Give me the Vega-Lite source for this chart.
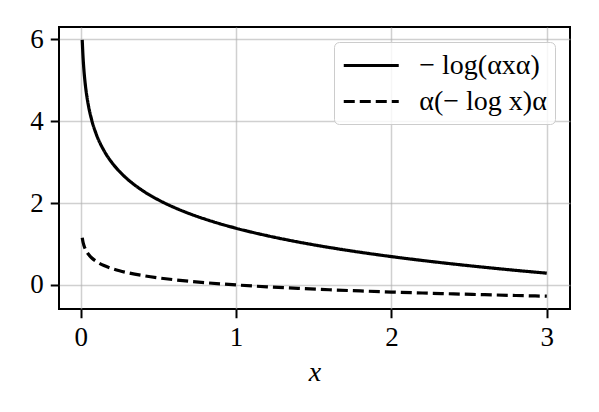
{
  "$schema": "https://vega.github.io/schema/vega-lite/v6.json",
  "width": 511,
  "height": 282,
  "autosize": {"type": "none"},
  "padding": {"left": 59, "top": 27, "right": 29, "bottom": 103},
  "background": "white",
  "data": {
    "values": [
      {"x": 0.01, "s": "− log(αxα)", "y": 5.9915}, {"x": 0.015, "s": "− log(αxα)", "y": 5.586}, {"x": 0.02, "s": "− log(αxα)", "y": 5.2983},
      {"x": 0.03, "s": "− log(αxα)", "y": 4.8929}, {"x": 0.04, "s": "− log(αxα)", "y": 4.6052}, {"x": 0.05, "s": "− log(αxα)", "y": 4.382},
      {"x": 0.07, "s": "− log(αxα)", "y": 4.0456}, {"x": 0.1, "s": "− log(αxα)", "y": 3.6889}, {"x": 0.15, "s": "− log(αxα)", "y": 3.2834},
      {"x": 0.2, "s": "− log(αxα)", "y": 2.9957}, {"x": 0.25, "s": "− log(αxα)", "y": 2.7726}, {"x": 0.3, "s": "− log(αxα)", "y": 2.5903},
      {"x": 0.4, "s": "− log(αxα)", "y": 2.3026}, {"x": 0.5, "s": "− log(αxα)", "y": 2.0794}, {"x": 0.6, "s": "− log(αxα)", "y": 1.8971},
      {"x": 0.7, "s": "− log(αxα)", "y": 1.743}, {"x": 0.8, "s": "− log(αxα)", "y": 1.6094}, {"x": 0.9, "s": "− log(αxα)", "y": 1.4917},
      {"x": 1.0, "s": "− log(αxα)", "y": 1.3863}, {"x": 1.2, "s": "− log(αxα)", "y": 1.204}, {"x": 1.4, "s": "− log(αxα)", "y": 1.0498},
      {"x": 1.6, "s": "− log(αxα)", "y": 0.9163}, {"x": 1.8, "s": "− log(αxα)", "y": 0.7985}, {"x": 2.0, "s": "− log(αxα)", "y": 0.6931},
      {"x": 2.2, "s": "− log(αxα)", "y": 0.5978}, {"x": 2.4, "s": "− log(αxα)", "y": 0.5108}, {"x": 2.6, "s": "− log(αxα)", "y": 0.4308},
      {"x": 2.8, "s": "− log(αxα)", "y": 0.3567}, {"x": 3.0, "s": "− log(αxα)", "y": 0.2877},
      {"x": 0.01, "s": "α(− log x)α", "y": 1.1513}, {"x": 0.015, "s": "α(− log x)α", "y": 1.0499}, {"x": 0.02, "s": "α(− log x)α", "y": 0.978},
      {"x": 0.03, "s": "α(− log x)α", "y": 0.8766}, {"x": 0.04, "s": "α(− log x)α", "y": 0.8047}, {"x": 0.05, "s": "α(− log x)α", "y": 0.7489},
      {"x": 0.07, "s": "α(− log x)α", "y": 0.6648}, {"x": 0.1, "s": "α(− log x)α", "y": 0.5756}, {"x": 0.15, "s": "α(− log x)α", "y": 0.4743},
      {"x": 0.2, "s": "α(− log x)α", "y": 0.4024}, {"x": 0.25, "s": "α(− log x)α", "y": 0.3466}, {"x": 0.3, "s": "α(− log x)α", "y": 0.301},
      {"x": 0.4, "s": "α(− log x)α", "y": 0.2291}, {"x": 0.5, "s": "α(− log x)α", "y": 0.1733}, {"x": 0.6, "s": "α(− log x)α", "y": 0.1277},
      {"x": 0.7, "s": "α(− log x)α", "y": 0.0892}, {"x": 0.8, "s": "α(− log x)α", "y": 0.0558}, {"x": 0.9, "s": "α(− log x)α", "y": 0.0263},
      {"x": 1.0, "s": "α(− log x)α", "y": 0.0}, {"x": 1.2, "s": "α(− log x)α", "y": -0.0456}, {"x": 1.4, "s": "α(− log x)α", "y": -0.0841},
      {"x": 1.6, "s": "α(− log x)α", "y": -0.1175}, {"x": 1.8, "s": "α(− log x)α", "y": -0.1469}, {"x": 2.0, "s": "α(− log x)α", "y": -0.1733},
      {"x": 2.2, "s": "α(− log x)α", "y": -0.1971}, {"x": 2.4, "s": "α(− log x)α", "y": -0.2189}, {"x": 2.6, "s": "α(− log x)α", "y": -0.2389},
      {"x": 2.8, "s": "α(− log x)α", "y": -0.2574}, {"x": 3.0, "s": "α(− log x)α", "y": -0.2747}
    ]
  },
  "mark": {"type": "line", "color": "black", "strokeWidth": 3.2, "interpolate": "monotone"},
  "encoding": {
    "x": {
      "field": "x", "type": "quantitative", "title": "x",
      "scale": {"domain": [-0.1395, 3.1495], "nice": false, "zero": false},
      "axis": {"values": [0, 1, 2, 3], "format": "d", "titleFontStyle": "italic"}
    },
    "y": {
      "field": "y", "type": "quantitative", "title": null,
      "scale": {"domain": [-0.588, 6.305], "nice": false, "zero": false},
      "axis": {"values": [0, 2, 4, 6], "format": "d"}
    },
    "strokeDash": {
      "field": "s", "type": "nominal", "title": null,
      "scale": {"domain": ["− log(αxα)", "α(− log x)α"], "range": [[1, 0], [11, 5]]},
      "legend": {
        "orient": "none", "legendX": 275, "legendY": 15,
        "symbolType": "M-2,0H2", "symbolSize": 756, "symbolOffset": 13.75,
        "symbolStrokeWidth": 3.2, "symbolStrokeColor": "black", "symbolFillColor": "transparent",
        "labelFont": "Liberation Serif", "labelFontSize": 28, "labelColor": "black", "labelOffset": 32.5,
        "fillColor": "rgba(255,255,255,0.8)", "strokeColor": "#cccccc", "cornerRadius": 5,
        "padding": 8, "rowPadding": 6
      }
    },
    "order": {"field": "x", "type": "quantitative"}
  },
  "config": {
    "view": {"stroke": "black", "strokeWidth": 2},
    "axis": {
      "domain": false,
      "labelFont": "Liberation Serif", "labelFontSize": 27, "labelColor": "black",
      "titleFont": "Liberation Serif", "titleFontSize": 28, "titleColor": "black", "titleFontWeight": "normal",
      "tickColor": "black", "tickWidth": 2, "tickSize": 8.75, "labelPadding": 7,
      "grid": true, "gridColor": "#b0b0b0", "gridOpacity": 0.6, "gridWidth": 1.5,
      "titlePadding": 8
    }
  }
}
